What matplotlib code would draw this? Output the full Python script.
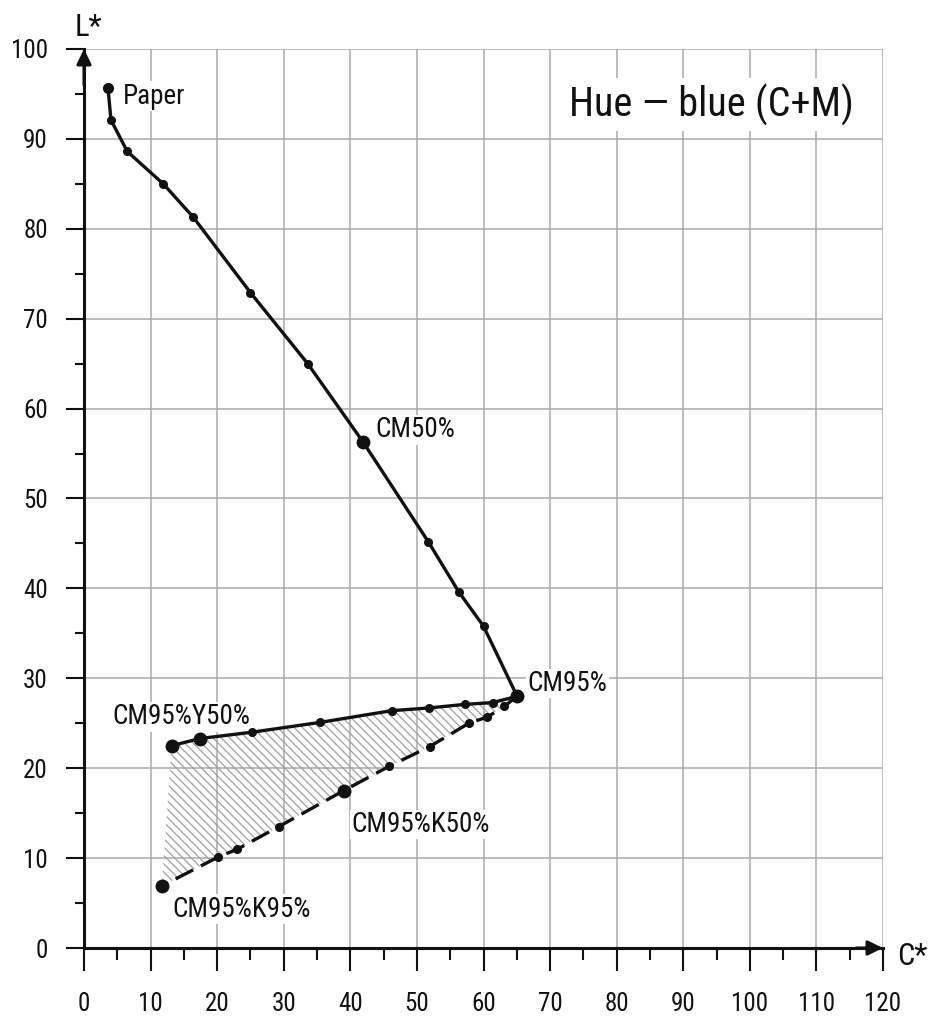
"""
Lightness vs chroma path for the blue (C+M) hue, with Y and K additions.
"""

import matplotlib
matplotlib.use("Agg")
import matplotlib.pyplot as plt
from matplotlib import font_manager

# Pick a narrow face if the system has one
NARROW_STRETCH = ("ultra-condensed", "extra-condensed", "condensed", "semi-condensed")
PREFERRED = ["Roboto Condensed", "Noto Sans Condensed", "Open Sans Condensed",
             "Liberation Sans Narrow", "DejaVu Sans Condensed", "Noto Sans", "DejaVu Sans"]
narrow = [f for f in font_manager.fontManager.ttflist
          if (f.stretch in NARROW_STRETCH or "Condensed" in f.name or "Narrow" in f.name)
          and f.style == "normal" and f.weight in (400, "normal", "regular")]
narrow.sort(key=lambda f: PREFERRED.index(f.name) if f.name in PREFERRED else 99)
if narrow:
    FONT, STRETCH = narrow[0].name, narrow[0].stretch
else:
    FONT, STRETCH = "DejaVu Sans", "normal"
plt.rcParams["font.family"] = [FONT, "DejaVu Sans"]
plt.rcParams["font.stretch"] = STRETCH
plt.rcParams["hatch.linewidth"] = 0.9

# Paper -> CM95% ramp
cm_c = [3.6, 4.05, 6.5, 11.9, 16.4, 25.0, 33.6, 41.9, 51.7, 56.3, 60.0, 65.05]
cm_l = [95.7, 92.1, 88.6, 85.0, 81.3, 72.9, 65.0, 56.3, 45.2, 39.6, 35.8, 28.0]

# CM95% with yellow added (towards the left end)
y_c = [13.15, 17.4, 25.2, 35.5, 46.2, 51.8, 57.2, 61.4, 65.05]
y_l = [22.5, 23.3, 24.0, 25.1, 26.4, 26.7, 27.1, 27.3, 28.0]

# CM95% with black added
k_c = [65.05, 63.15, 60.6, 57.8, 51.9, 45.8, 39.0, 29.25, 23.05, 20.1, 11.7]
k_l = [28.0, 26.9, 25.7, 25.0, 22.4, 20.2, 17.5, 13.5, 11.0, 10.1, 6.9]

# named points drawn with a larger dot
key_c = [41.9, 65.05, 17.4, 13.15, 39.0, 11.7]
key_l = [56.3, 28.0, 23.3, 22.5, 17.5, 6.9]

x_ticks = list(range(0, 121, 10))
y_ticks = list(range(0, 101, 10))

labels = [
    ("Paper", 5.9, 93.9),
    ("CM50%", 43.7, 56.8),
    ("CM95%", 66.6, 28.6),
    ("CM95%Y50%", 4.3, 24.9),
    ("CM95%K50%", 40.2, 12.9),
    ("CM95%K95%", 13.3, 3.5),
]

INK = "#111111"
GRID = "#a9a9a9"

fig = plt.figure(figsize=(9.39, 10.22), dpi=100)
ax = fig.add_axes([84 / 939, 74 / 1022, 799 / 939, 899 / 1022])
ax.set_xlim(0, 120)
ax.set_ylim(0, 100)

ax.set_axisbelow(True)
ax.grid(which="major", color=GRID, linewidth=1.1)

ax.set_xticks(x_ticks)
ax.set_yticks(y_ticks)
ax.set_xticks([t + 5 for t in x_ticks[:-1]], minor=True)
ax.set_yticks([t + 5 for t in y_ticks[:-1]], minor=True)
ax.tick_params(axis="both", which="both", direction="out", color=INK, width=1.5,
               labelsize=18, labelcolor=INK)
ax.tick_params(axis="x", which="major", length=16.5, pad=15)
ax.tick_params(axis="x", which="minor", length=8.5)
ax.tick_params(axis="y", which="major", length=13, pad=13)
ax.tick_params(axis="y", which="minor", length=6.5)

for side in ("top", "right"):
    ax.spines[side].set_visible(False)
for side in ("left", "bottom"):
    ax.spines[side].set_color(INK)
    ax.spines[side].set_linewidth(2.2)

# arrow heads on both axes
head = dict(arrowstyle="-|>,head_length=0.45,head_width=0.22", color=INK,
            lw=2.2, shrinkA=0, shrinkB=0, mutation_scale=20)
ax.annotate("", xy=(120, 0), xytext=(116, 0), arrowprops=head, annotation_clip=False)
ax.annotate("", xy=(0, 100), xytext=(0, 96), arrowprops=head, annotation_clip=False)
ax.text(-1.35, 101.4, "L*", fontsize=22, color=INK, ha="left", va="baseline", clip_on=False)
ax.text(122.1, -1.9, "C*", fontsize=22, color=INK, ha="left", va="baseline", clip_on=False)

# hatched area between the Y and K branches
ax.fill(y_c + k_c, y_l + k_l, facecolor="none", edgecolor="#a0a0a0",
        linewidth=0, hatch="\\\\\\\\", zorder=1.5)

ax.plot(cm_c, cm_l, color=INK, lw=2.4, marker="o", ms=5.5, zorder=4)
ax.plot(y_c, y_l, color=INK, lw=2.4, marker="o", ms=5.5, zorder=4)
ax.plot(k_c, k_l, color=INK, lw=2.4, marker="o", ms=5.5, dashes=(5.9, 2.6), zorder=4)
ax.plot(key_c, key_l, linestyle="none", marker="o", ms=9, color=INK, zorder=5)
ax.plot(cm_c[:1], cm_l[:1], linestyle="none", marker="o", ms=7, color=INK, zorder=5)

for text, cx, cy in labels:
    ax.text(cx, cy, text, fontsize=19.5, color=INK, ha="left", va="baseline", zorder=3,
            bbox=dict(facecolor="white", edgecolor="none", pad=1))

ax.text(94.3, 92.5, "Hue \u2014 blue (C+M)", fontsize=29, color=INK, ha="center",
        va="baseline", zorder=3, bbox=dict(facecolor="white", edgecolor="none", pad=4))

fig.savefig("out.png", dpi=100)
